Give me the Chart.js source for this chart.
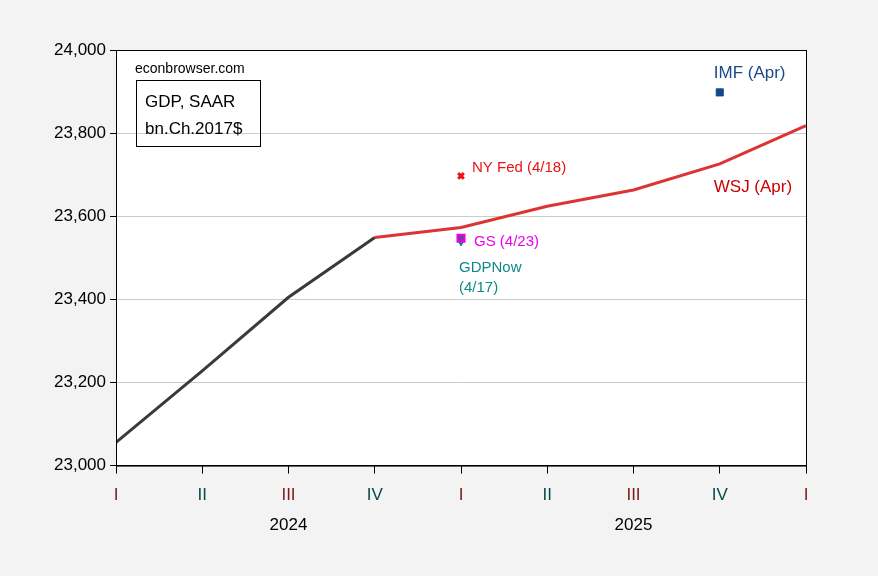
<!DOCTYPE html>
<html><head><meta charset="utf-8">
<script src="https://cdn.jsdelivr.net/npm/chart.js@4/dist/chart.umd.min.js"></script>
<style>body{margin:0;background:#f3f3f3}#wrap{width:878px;height:576px}</style>
</head><body><div id="wrap"><canvas id="c"></canvas></div>
<script>
const quarterLabels = ['I','II','III','IV','I','II','III','IV','I'];
const years = [['2024', 2], ['2025', 6]];
const actualGdp = [23056, 23228, 23405, 23549];
const wsjForecast = [23549, 23573, 23624, 23663, 23726, 23818];
const nyFed = [{x: 4, y: 23697}];
const gsPoint = [{x: 4, y: 23547}];
const gdpNow = [{x: 4, y: 23538}];
const imfPoint = [{x: 7, y: 23898}];

const bg = {
  id: 'bg',
  beforeDraw(ch) {
    const {ctx, chartArea: a} = ch;
    ctx.save();
    ctx.fillStyle = '#f3f3f3'; ctx.fillRect(0, 0, ch.width, ch.height);
    ctx.fillStyle = '#fff'; ctx.fillRect(a.left, a.top, a.right - a.left, a.bottom - a.top);
    ctx.restore();
  },
  afterDraw(ch) {
    const {ctx, chartArea: a, scales: {x, y}} = ch;
    ctx.save();
    ctx.strokeStyle = '#000'; ctx.lineWidth = 1;
    ctx.strokeRect(a.left + 0.5, a.top + 0.5, a.right - a.left, a.bottom - a.top);
    ctx.font = '17px Arial'; ctx.fillStyle = '#000'; ctx.textAlign = 'center';
    years.forEach(([t, v]) => ctx.fillText(t, x.getPixelForValue(v), 530));
    ctx.textAlign = 'left';
    ctx.font = '14px Arial';
    ctx.fillText('econbrowser.com', 135, 73);
    ctx.strokeRect(136.5, 80.5, 124, 66);
    ctx.font = '17px Arial';
    ctx.fillText('GDP, SAAR', 145, 107);
    ctx.fillText('bn.Ch.2017$', 145, 134);
    const lbl = (t, vx, vy, dx, dy, col, f) => {
      ctx.fillStyle = col; ctx.font = f || '15px Arial';
      ctx.fillText(t, x.getPixelForValue(vx) + dx, y.getPixelForValue(vy) + dy);
    };
    lbl('NY Fed (4/18)', 4, 23697, 11, -4, '#ee1111');
    lbl('GS (4/23)', 4, 23547, 13, 8, '#ee00ee');
    lbl('GDPNow', 4, 23538, -2, 30, '#118888', '15px Arial');
    lbl('(4/17)', 4, 23538, -2, 50, '#118888', '15px Arial');
    lbl('IMF (Apr)', 7, 23898, -6, -14, '#1a4a8a', '17px Arial');
    lbl('WSJ (Apr)', 7, 23726, -6, 28, '#cc0000', '17px Arial');
    ctx.restore();
  }
};

new Chart(document.getElementById('c'), {
  type: 'scatter',
  data: {datasets: [
    {type: 'line', data: actualGdp.map((v, i) => ({x: i, y: v})), borderColor: '#3a3a3a', borderWidth: 3, pointRadius: 0},
    {type: 'line', data: wsjForecast.map((v, i) => ({x: i + 3, y: v})), borderColor: '#dd3333', borderWidth: 3, pointRadius: 0},
    {data: nyFed, pointStyle: 'crossRot', pointRadius: 4, borderColor: '#ee1111', borderWidth: 3},
    {data: gsPoint, pointStyle: 'rect', pointRadius: 5, backgroundColor: '#7a3aa0', borderColor: '#ee00ee', borderWidth: 2},
    {data: gdpNow, pointStyle: 'triangle', rotation: 180, pointRadius: 4, backgroundColor: '#118888', borderColor: '#118888'},
    {data: imfPoint, pointStyle: 'rect', pointRadius: 5, backgroundColor: '#104a8a', borderColor: '#104a8a'}
  ]},
  options: {
    responsive: true, maintainAspectRatio: false, animation: false,
    layout: {padding: {top: 50, right: 72, bottom: 58, left: 10}},
    plugins: {legend: {display: false}, tooltip: {enabled: false}},
    scales: {
      x: {type: 'linear', min: 0, max: 8,
        ticks: {stepSize: 1, font: {size: 17, family: 'Arial'}, padding: 12,
          color: c => (c.index % 2 === 0 ? '#7a1a1a' : '#0a4a4a'),
          callback: v => quarterLabels[v]},
        grid: {drawOnChartArea: false, drawTicks: true, tickLength: 8, tickColor: '#000'}, border: {color: '#000'}},
      y: {min: 23000, max: 24000,
        ticks: {stepSize: 200, font: {size: 17, family: 'Arial'}, color: '#000', padding: 4,
          callback: v => v.toLocaleString('en-US')},
        grid: {color: '#cccccc', tickLength: 6, tickColor: '#000'}, border: {color: '#000'}, afterFit: s => { s.width = 106; }}
    }
  },
  plugins: [bg]
});
</script></body></html>
